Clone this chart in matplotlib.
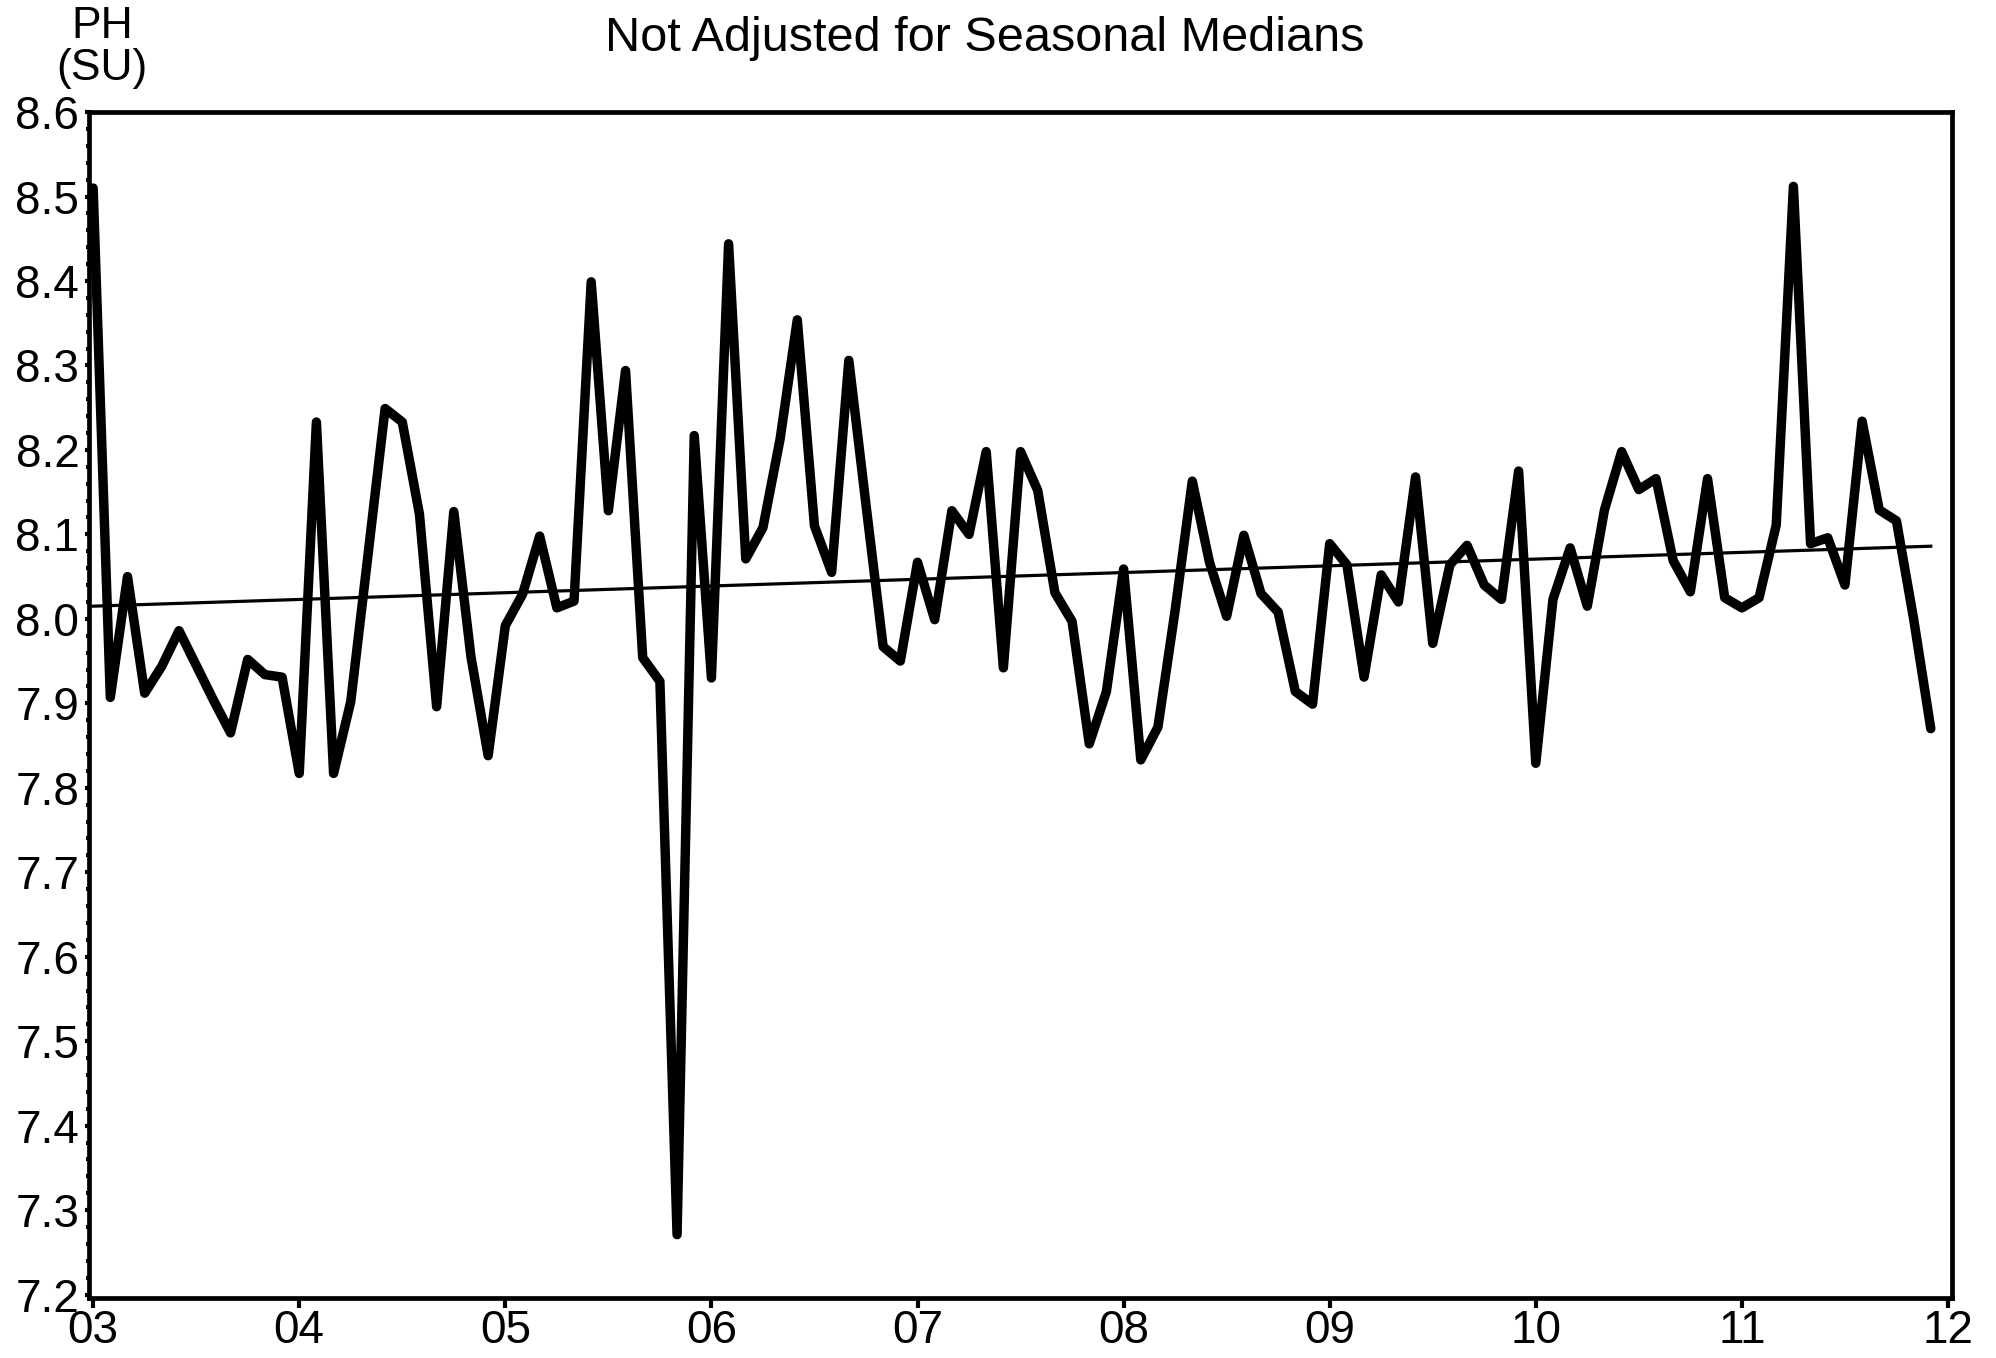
import matplotlib.pyplot as plt
import numpy as np
from matplotlib.ticker import MultipleLocator

plt.rcParams['font.family'] = ['Liberation Sans', 'DejaVu Sans']

# monthly pH (SU), Jan..Dec of each year
ph_2003 = [8.510, 7.907, 8.050, 7.912, 7.944, 7.986, 7.945, 7.904, 7.865, 7.952, 7.934, 7.931]
ph_2004 = [7.817, 8.233, 7.817, 7.902, 8.075, 8.249, 8.233, 8.124, 7.896, 8.127, 7.955, 7.838]
ph_2005 = [7.992, 8.029, 8.098, 8.013, 8.021, 8.399, 8.128, 8.294, 7.954, 7.926, 7.271, 8.217]
ph_2006 = [7.930, 8.444, 8.071, 8.108, 8.213, 8.354, 8.110, 8.055, 8.306, 8.135, 7.967, 7.950]
ph_2007 = [8.067, 7.999, 8.128, 8.100, 8.198, 7.942, 8.198, 8.152, 8.031, 7.997, 7.852, 7.914]
ph_2008 = [8.059, 7.833, 7.872, 8.010, 8.163, 8.067, 8.003, 8.099, 8.030, 8.008, 7.914, 7.899]
ph_2009 = [8.089, 8.064, 7.931, 8.052, 8.020, 8.168, 7.971, 8.064, 8.087, 8.040, 8.023, 8.175]
ph_2010 = [7.829, 8.023, 8.084, 8.015, 8.129, 8.198, 8.153, 8.166, 8.069, 8.032, 8.166, 8.025]
ph_2011 = [8.013, 8.025, 8.111, 8.512, 8.089, 8.096, 8.040, 8.234, 8.129, 8.116, 8.000, 7.870]

start_year = 2003
trend_ends = [8.015, 8.086]  # trend line value at first and last sample
year_ticks = [2003, 2004, 2005, 2006, 2007, 2008, 2009, 2010, 2011, 2012]
year_labels = ['03', '04', '05', '06', '07', '08', '09', '10', '11', '12']
y_ticks = [7.2, 7.3, 7.4, 7.5, 7.6, 7.7, 7.8, 7.9, 8.0, 8.1, 8.2, 8.3, 8.4, 8.5, 8.6]


def main():
    ph = np.concatenate([ph_2003, ph_2004, ph_2005, ph_2006, ph_2007,
                         ph_2008, ph_2009, ph_2010, ph_2011])
    t = start_year + np.arange(len(ph)) / 12.0

    fig = plt.figure(figsize=(19.96, 13.58), dpi=100)
    ax = fig.add_axes([0.0446, 0.0442, 0.9334, 0.8733])

    ax.plot(t, ph, color='black', lw=6.8,
            solid_joinstyle='round', solid_capstyle='round')
    ax.plot([t[0], t[-1]], trend_ends, color='black', lw=2.3)

    ax.set_xlim(2002.98, 2012.02)
    ax.set_ylim(7.196, 8.6)

    ax.set_xticks(year_ticks)
    ax.set_xticklabels(year_labels)
    ax.set_yticks(y_ticks)
    ax.set_yticklabels(['%.1f' % v for v in y_ticks])
    ax.yaxis.set_minor_locator(MultipleLocator(0.02))

    ax.tick_params(axis='x', direction='out', length=7, width=3,
                   pad=1, labelsize=33)
    ax.tick_params(axis='y', which='major', direction='out', length=3,
                   width=3, pad=4, labelsize=33)
    ax.tick_params(axis='y', which='minor', direction='out', length=2.5,
                   width=3)

    for sp in ax.spines.values():
        sp.set_linewidth(3.4)

    fig.text(0.0511, 0.9956, 'PH', ha='center', va='top', fontsize=32)
    fig.text(0.0511, 0.9645, '(SU)', ha='center', va='top', fontsize=32)
    fig.text(0.4935, 0.9624, 'Not Adjusted for Seasonal Medians',
             ha='center', va='baseline', fontsize=35)

    fig.savefig('out.png', dpi=100)


if __name__ == '__main__':
    main()
